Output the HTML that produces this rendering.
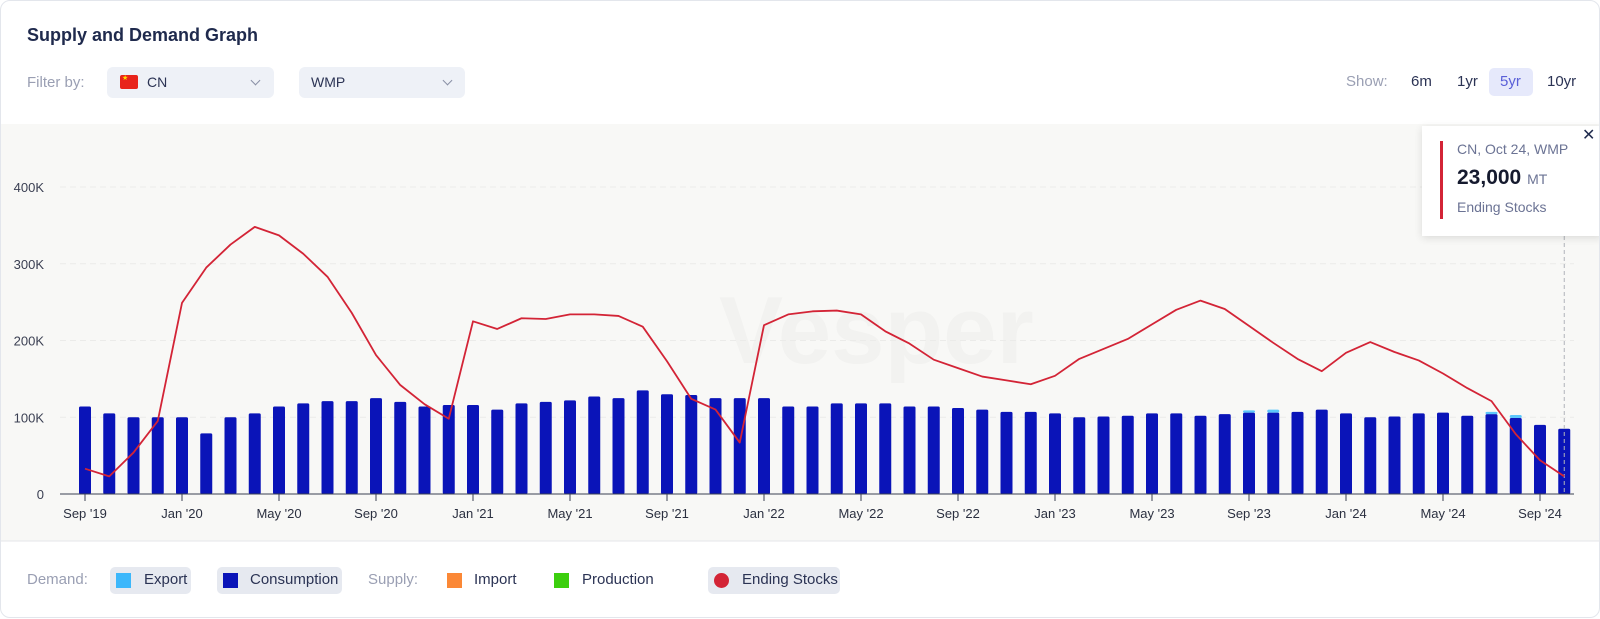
<!DOCTYPE html>
<html><head><meta charset="utf-8">
<style>
*{box-sizing:border-box;margin:0;padding:0}
body{width:1600px;height:619px;background:#fff;font-family:"Liberation Sans",sans-serif;position:relative;overflow:hidden}
.card{position:absolute;left:0;top:0;width:1600px;height:618px;border:1px solid #e3e6ec;border-radius:10px;overflow:hidden;background:#fff}
.abs{position:absolute}
.title{left:26px;top:24px;font-size:18px;font-weight:bold;color:#1f2a4d}
.lbl{color:#9a9fb3;font-size:15px}
.dd{background:#eef1f7;border-radius:6px;height:31px;top:66px}
.dd span{position:absolute;top:7px;font-size:14px;color:#2b3354}
.chev{position:absolute;top:10px;width:7px;height:7px;border-right:1.5px solid #8a90a6;border-bottom:1.5px solid #8a90a6;transform:rotate(45deg)}
.show{font-size:15px;color:#2b3354;top:72px}
.chip{background:#e6e9f0;border-radius:5px;height:27px;top:566px}
.leg{font-size:15px;color:#2b3354;top:570px}
.sw{width:15px;height:15px;top:572px}
</style></head><body>
<div class="card">
<div class="abs title">Supply and Demand Graph</div>
<div class="abs lbl" style="left:26px;top:73px">Filter by:</div>
<div class="abs dd" style="left:106px;width:167px">
  <div class="abs" style="left:13px;top:8px;width:18px;height:14px;background:#e8231b;border-radius:2px"><span style="position:absolute;left:2px;top:-1px;font-size:7px;color:#ffde00">★</span></div>
  <span style="left:40px">CN</span><div class="chev" style="left:145px"></div></div>
<div class="abs dd" style="left:298px;width:166px">
  <span style="left:12px">WMP</span><div class="chev" style="left:145px"></div></div>
<div class="abs lbl" style="left:1345px;top:72px">Show:</div>
<div class="abs show" style="left:1410px">6m</div>
<div class="abs show" style="left:1456px">1yr</div>
<div class="abs" style="left:1488px;top:67px;width:44px;height:28px;background:#e6e9fb;border-radius:5px"><span style="position:absolute;left:11px;top:5px;font-size:15px;color:#5a5fd8">5yr</span></div>
<div class="abs show" style="left:1546px">10yr</div>

<svg class="abs" style="left:0;top:0" width="1600" height="619" id="chart">
  <rect x="0" y="123" width="1600" height="417" fill="#f8f8f6"/>
  <line x1="0" y1="540" x2="1600" y2="540" stroke="#e4e6ea"/>
  <text x="718" y="362" font-size="96" font-weight="bold" fill="#f2f2f0" font-family="Liberation Sans,sans-serif">Vesper</text>
  <g id="grid"></g><g id="bars"></g><g id="line"></g><g id="axes"></g>
</svg>

<div class="abs" style="left:1421px;top:125px;width:180px;height:110px;background:#fff;box-shadow:0 2px 8px rgba(0,0,0,0.12)">
  <div class="abs" style="left:18px;top:15px;width:3px;height:78px;background:#d32436"></div>
  <div class="abs" style="left:35px;top:15px;font-size:14px;color:#6b7394">CN, Oct 24, WMP</div>
  <div class="abs" style="left:35px;top:40px;font-size:21px;font-weight:bold;color:#151a2e">23,000 <span style="font-size:14px;font-weight:normal;color:#6b7394">MT</span></div>
  <div class="abs" style="left:35px;top:73px;font-size:14px;color:#6b7394">Ending Stocks</div>
  <div class="abs" style="left:160px;top:-1px;font-size:16px;color:#1f2a4d">✕</div>
</div>

<div class="abs lbl" style="left:26px;top:570px">Demand:</div>
<div class="abs chip" style="left:109px;width:81px"></div>
<div class="abs sw" style="left:115px;background:#3cb7fb"></div><div class="abs leg" style="left:143px">Export</div>
<div class="abs chip" style="left:216px;width:125px"></div>
<div class="abs sw" style="left:222px;background:#0a14b8"></div><div class="abs leg" style="left:249px">Consumption</div>
<div class="abs lbl" style="left:367px;top:570px">Supply:</div>
<div class="abs sw" style="left:446px;background:#fb8836"></div><div class="abs leg" style="left:473px">Import</div>
<div class="abs sw" style="left:553px;background:#3ccf0e"></div><div class="abs leg" style="left:581px">Production</div>
<div class="abs chip" style="left:707px;width:132px"></div>
<div class="abs" style="left:713px;top:572px;width:15px;height:15px;border-radius:50%;background:#d32436"></div><div class="abs leg" style="left:741px">Ending Stocks</div>
</div>

<script>
const months = ["Sep '19","Oct '19","Nov '19","Dec '19","Jan '20","Feb '20","Mar '20","Apr '20","May '20","Jun '20","Jul '20","Aug '20","Sep '20","Oct '20","Nov '20","Dec '20","Jan '21","Feb '21","Mar '21","Apr '21","May '21","Jun '21","Jul '21","Aug '21","Sep '21","Oct '21","Nov '21","Dec '21","Jan '22","Feb '22","Mar '22","Apr '22","May '22","Jun '22","Jul '22","Aug '22","Sep '22","Oct '22","Nov '22","Dec '22","Jan '23","Feb '23","Mar '23","Apr '23","May '23","Jun '23","Jul '23","Aug '23","Sep '23","Oct '23","Nov '23","Dec '23","Jan '24","Feb '24","Mar '24","Apr '24","May '24","Jun '24","Jul '24","Aug '24","Sep '24","Oct '24"];
const consumption = [114,105,100,100,100,79,100,105,114,118,121,121,125,120,114,116,116,110,118,120,122,127,125,135,130,129,125,125,125,114,114,118,118,118,114,114,112,110,107,107,105,100,101,102,105,105,102,104,106,106,107,110,105,100,101,105,106,102,104,99,90,85];
const exportVals = [0,0,0,0,0,0,0,0,0,0,0,0,0,0,0,0,0,0,0,0,0,0,0,0,0,0,0,0,0,0,0,0,0,0,0,0,0,0,0,0,0,0,0,0,0,0,0,0,3,4,0,0,0,0,0,0,0,0,3,4,0,0];
const endingStocks = [33,23,54,95,249,295,325,348,337,313,283,236,181,142,117,98,225,215,229,228,234,234,232,218,173,124,110,67,220,234,238,239,234,212,196,175,164,153,148,143,154,176,189,202,221,240,252,241,219,197,176,160,184,198,185,174,157,138,121,78,44,23];
const yTicks = [0,100,200,300,400];
const yTickLabels = ["0","100K","200K","300K","400K"];

const NS="http://www.w3.org/2000/svg";
const x0=84, step=24.25, yBase=493, pxPerK=0.7675;
const xs=i=>x0+i*step;
const ys=v=>yBase-v*pxPerK;
function mk(tag,attrs,parent){const e=document.createElementNS(NS,tag);for(const k in attrs)e.setAttribute(k,attrs[k]);parent.appendChild(e);return e;}
const grid=document.getElementById('grid'),bars=document.getElementById('bars'),line=document.getElementById('line'),axes=document.getElementById('axes');
yTicks.forEach((t,i)=>{
  if(t>0){const g=mk('line',{x1:59,x2:1573,y1:ys(t),y2:ys(t),stroke:'#ebebe9','stroke-dasharray':'6,4'},grid);
  
  }
  const tx=mk('text',{x:43,y:ys(t)+5,'text-anchor':'end','font-size':13,fill:'#3a3f52'},axes);
  tx.textContent=yTickLabels[i];
  
  
});
consumption.forEach((v,i)=>{
  const r=mk('rect',{x:xs(i)-6,y:ys(v),width:12,height:v*pxPerK,fill:'#0a14b8',rx:1.5},bars);
  
  
  if(exportVals[i]>0){const e=mk('rect',{x:xs(i)-6,y:ys(v+exportVals[i]),width:12,height:exportVals[i]*pxPerK,fill:'#5cc6fb',rx:1.5},bars);
  
  }
});
const dash=mk('line',{x1:xs(61),x2:xs(61),y1:235,y2:yBase,stroke:'#b0b3ba','stroke-dasharray':'4,3'},line);


const pl=mk('polyline',{points:endingStocks.map((v,i)=>xs(i)+','+ys(v)).join(' '),fill:'none',stroke:'#d32436','stroke-width':1.8,'stroke-linejoin':'round'},line);


const ax=mk('line',{x1:59,x2:1573,y1:yBase,y2:yBase,stroke:'#3a3f52','stroke-width':1},axes);


months.forEach((m,i)=>{
  if(i%4!==0)return;
  mk('line',{x1:xs(i),x2:xs(i),y1:yBase,y2:yBase+7,stroke:'#3a3f52'},axes);
  const t=mk('text',{x:xs(i),y:517,'text-anchor':'middle','font-size':13,fill:'#2b3040'},axes);
  t.textContent=m;
  
  
});
</script>
</body></html>
